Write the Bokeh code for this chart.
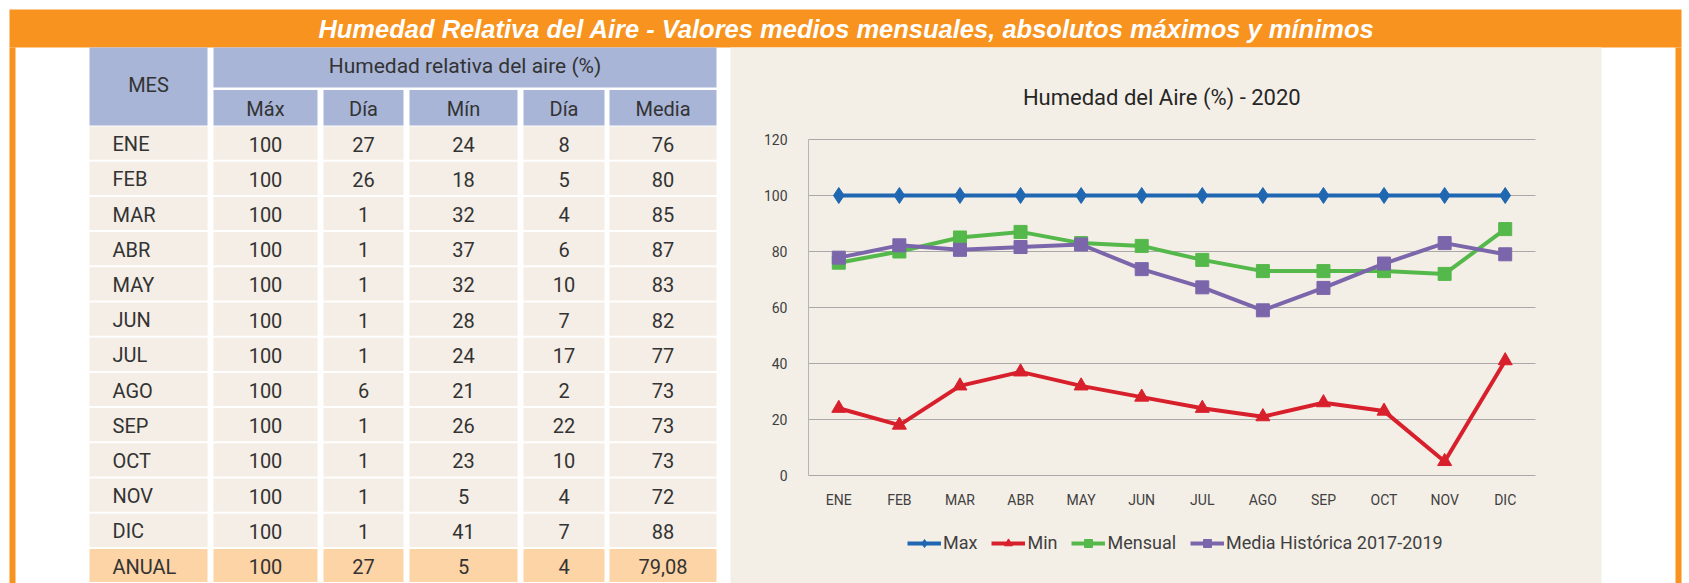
from bokeh.plotting import figure
from bokeh.models import (Range1d, ColumnDataSource, FixedTicker, LinearAxis,
                          Legend, LegendItem)
from bokeh.embed import file_html
from bokeh.resources import INLINE
from bokeh.core.properties import value

# ---------------- data ----------------
months = ["ENE", "FEB", "MAR", "ABR", "MAY", "JUN", "JUL", "AGO", "SEP", "OCT", "NOV", "DIC"]
hr_max = [100, 100, 100, 100, 100, 100, 100, 100, 100, 100, 100, 100]
day_max = [27, 26, 1, 1, 1, 1, 1, 6, 1, 1, 1, 1]
hr_min = [24, 18, 32, 37, 32, 28, 24, 21, 26, 23, 5, 41]
day_min = [8, 5, 4, 6, 10, 7, 17, 2, 22, 10, 4, 7]
hr_mean = [76, 80, 85, 87, 83, 82, 77, 73, 73, 73, 72, 88]
hr_hist = [77.8, 82.2, 80.6, 81.6, 82.5, 73.7, 67.2, 59.0, 67.0, 75.7, 83.0, 79.0]
annual_label = "ANUAL"
annual_values = ["100", "27", "5", "4", "79,08"]
col_headers = ["Máx", "Día", "Mín", "Día", "Media"]
group_header = "Humedad relativa del aire (%)"
month_header = "MES"
page_title = "Humedad Relativa del Aire - Valores medios mensuales, absolutos máximos y mínimos"
chart_title = "Humedad del Aire  (%) - 2020"
series_names = ["Max", "Min", "Mensual", "Media Histórica 2017-2019"]
y_ticks = [0, 20, 40, 60, 80, 100, 120]

# ---------------- styles / layout (page pixels) ----------------
W, H = 1689, 583
ORANGE = "#f7931e"
HDR_BLUE = "#a8b5d7"
CELL = "#f4eee6"
ANNUAL_BG = "#fdd4a6"
PANEL = "#f4efe6"
TXT = "#333333"
FONT = "Roboto"
series_colors = ["#1f67b1", "#d8202c", "#55b84a", "#7b66ab"]
series_markers = ["diamond", "triangle", "square", "square"]
series_sizes = [16, 14, 13, 13]

# chart plot area in page pixels
PX0, PX1 = 808, 1535      # left / right of category band
PY0, PY1 = 475, 139       # y=0 / y=120
kx = (PX1 - PX0) / len(months)
ky = (PY0 - PY1) / (y_ticks[-1] - y_ticks[0])
cx_start = -PX0 / kx
cx_end = cx_start + W / kx
cy_start = y_ticks[0] - (H - PY0) / ky
cy_end = cy_start + H / ky

p = figure(width=W, height=H, x_range=Range1d(0, W), y_range=Range1d(H, 0),
           output_backend="svg", toolbar_location=None, min_border=0,
           x_axis_location=None, y_axis_location=None)
p.grid.visible = False
p.outline_line_color = None
p.background_fill_color = "white"
p.border_fill_color = "white"
p.extra_x_ranges = {"cx": Range1d(cx_start, cx_end)}
p.extra_y_ranges = {"cy": Range1d(cy_start, cy_end)}

# ---------------- frame & title bar ----------------
p.quad(left=[9, 9, 1675], right=[1681, 15, 1681], top=[9, 47, 47], bottom=[47, H, H],
       color=ORANGE, line_color=None)
p.text(x=[846], y=[28.5], text=[page_title], text_align="center", text_baseline="middle",
       text_color="white", text_font=value("Liberation Sans"), text_font_style="bold italic",
       text_font_size="25.5px")

# ---------------- table ----------------
mes_l, mes_r = 89, 207
col_l = [213, 323, 409, 523, 609]
col_r = [317, 403, 517, 604, 716]
row0, pitch, cell_h = 126, 35.2, 33.2

hl = [mes_l, col_l[0]] + col_l
hr = [mes_r, col_r[-1]] + col_r
ht = [47, 47] + [89.5] * len(col_headers)
hb = [125, 87] + [125] * len(col_headers)
p.quad(left=hl, right=hr, top=ht, bottom=hb, color=HDR_BLUE, line_color=None)

rows_text = []
for i, m in enumerate(months):
    rows_text.append([m, str(hr_max[i]), str(day_max[i]), str(hr_min[i]), str(day_min[i]), str(hr_mean[i])])
rows_text.append([annual_label] + annual_values)

bl, br, bt, bb, bc = [], [], [], [], []
tx, ty, tt, ta = [], [], [], []
lefts = [mes_l] + col_l
rights = [mes_r] + col_r
for i, rtxt in enumerate(rows_text):
    top = row0 + pitch * i
    fill = ANNUAL_BG if i == len(rows_text) - 1 else CELL
    for j in range(6):
        bl.append(lefts[j]); br.append(rights[j]); bt.append(top); bb.append(top + cell_h); bc.append(fill)
        if j == 0:
            tx.append(mes_l + 23); ta.append("left")
        else:
            tx.append((lefts[j] + rights[j]) / 2); ta.append("center")
        ty.append(top + cell_h / 2 + 1)
        tt.append(rtxt[j])
p.quad(left=bl, right=br, top=bt, bottom=bb, color=bc, line_color=None)

for j, h in enumerate(col_headers):
    tx.append((col_l[j] + col_r[j]) / 2); ty.append(108); tt.append(h); ta.append("center")
tx.append((mes_l + mes_r) / 2); ty.append(84); tt.append(month_header); ta.append("center")

p.text(x=tx, y=ty, text=tt, text_align=ta, text_baseline="middle", text_color=TXT,
       text_font=value(FONT), text_font_size="20px")
p.text(x=[(col_l[0] + col_r[-1]) / 2], y=[65], text=[group_header], text_align="center",
       text_baseline="middle", text_color=TXT, text_font=value(FONT), text_font_size="21px")

# ---------------- chart ----------------
p.quad(left=[730], right=[1601], top=[47], bottom=[H], color=PANEL, line_color=None)
p.text(x=[1164], y=[97], text=[chart_title], text_align="center", text_baseline="middle",
       text_color="#262626", text_font=value(FONT), text_font_size="22px")

n = len(months)
xc = [i + 0.5 for i in range(n)]

# horizontal gridlines and y axis line (chart scales)
p.segment(x0=[0] * len(y_ticks), x1=[n] * len(y_ticks), y0=y_ticks, y1=y_ticks,
          x_range_name="cx", y_range_name="cy", line_color="#a9a9a9", line_width=1)
p.segment(x0=[0], x1=[0], y0=[y_ticks[0]], y1=[y_ticks[-1]],
          x_range_name="cx", y_range_name="cy", line_color="#b5b5b5", line_width=1)

yax = LinearAxis(x_range_name="cx", y_range_name="cy", fixed_location=0,
                 ticker=FixedTicker(ticks=y_ticks))
xax = LinearAxis(x_range_name="cx", y_range_name="cy", fixed_location=0,
                 ticker=FixedTicker(ticks=xc),
                 major_label_overrides={x: m for x, m in zip(xc, months)})
for ax in (yax, xax):
    ax.axis_line_color = None
    ax.major_tick_line_color = None
    ax.minor_tick_line_color = None
    ax.major_label_text_font = FONT
    ax.major_label_text_font_size = "14px"
    ax.major_label_text_color = "#404040"
yax.major_label_standoff = 15
xax.major_label_standoff = 10
p.add_layout(yax, "left")
p.add_layout(xax, "below")

series = [hr_max, hr_min, hr_mean, hr_hist]
items = []
for name, vals, col, mk, sz in zip(series_names, series, series_colors, series_markers, series_sizes):
    src = ColumnDataSource(dict(x=xc, y=vals))
    lr = p.line("x", "y", source=src, line_width=4, line_color=col,
                x_range_name="cx", y_range_name="cy")
    sr = p.scatter("x", "y", source=src, marker=mk, size=sz, fill_color=col, line_color=col,
                   x_range_name="cx", y_range_name="cy")
    items.append(LegendItem(label=name, renderers=[lr, sr]))

legend = Legend(items=items, location=(907, 30), orientation="horizontal",
                background_fill_alpha=0, border_line_color=None, padding=0, margin=0,
                spacing=14, label_standoff=2, glyph_width=34, glyph_height=20,
                label_text_font=FONT, label_text_font_size="18px", label_text_color="#404040")
p.add_layout(legend)

open("out.html", "w").write(file_html(p, INLINE))
